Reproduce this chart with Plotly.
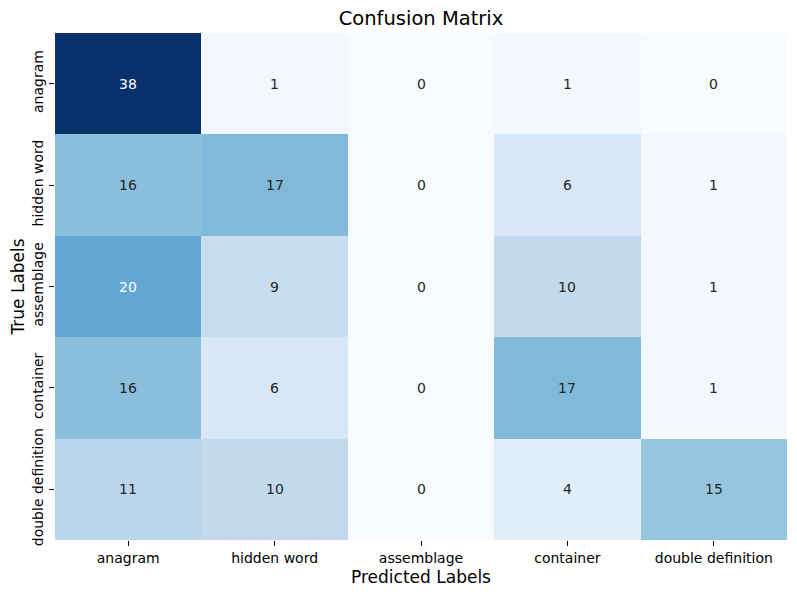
import plotly.graph_objects as go

labels = ["anagram", "hidden word", "assemblage", "container", "double definition"]
matrix = [
    [38, 1, 0, 1, 0],
    [16, 17, 0, 6, 1],
    [20, 9, 0, 10, 1],
    [16, 6, 0, 17, 1],
    [11, 10, 0, 4, 15],
]

blues = [
    [0.0, "#f7fbff"], [0.125, "#deebf7"], [0.25, "#c6dbef"], [0.375, "#9ecae1"],
    [0.5, "#6baed6"], [0.625, "#4292c6"], [0.75, "#2171b5"], [0.875, "#08519c"],
    [1.0, "#08306b"],
]
vmax = max(max(r) for r in matrix)

fig = go.Figure(go.Heatmap(
    z=matrix, x=labels, y=labels, colorscale=blues, zmin=0, zmax=vmax,
    showscale=False, xgap=0, ygap=0,
))

annotations = []
for i, row in enumerate(matrix):
    for j, v in enumerate(row):
        annotations.append(dict(
            x=labels[j], y=labels[i], text=str(v), showarrow=False,
            font=dict(size=14, color="white" if v / vmax > 0.5 else "#262626",
                      family="DejaVu Sans"),
        ))

# page body has an 8px margin: compensate so plot area sits at x 55..787, y 33..540
fig.update_layout(
    width=789, height=587,
    margin=dict(l=47, r=10, t=25, b=55, autoexpand=False),
    paper_bgcolor="white", plot_bgcolor="white",
    font=dict(family="DejaVu Sans", size=14, color="black"),
    title=dict(text="Confusion Matrix", x=413 / 789, xanchor="center",
               y=1 - 10 / 587, yanchor="middle", font=dict(size=19.5)),
    annotations=annotations,
    xaxis=dict(title=dict(text="Predicted Labels", font=dict(size=17), standoff=6),
               ticks="outside", ticklen=5, tickwidth=1.1, tickcolor="black", showgrid=False,
               zeroline=False, tickfont=dict(size=14), automargin=False),
    yaxis=dict(title=dict(text="True Labels", font=dict(size=17), standoff=4),
               autorange="reversed", ticks="outside", ticklen=5, tickwidth=1.1,
               tickcolor="black", tickangle=-90, showgrid=False, zeroline=False,
               tickfont=dict(size=14), automargin=False),
)

fig.write_html("out.html")
